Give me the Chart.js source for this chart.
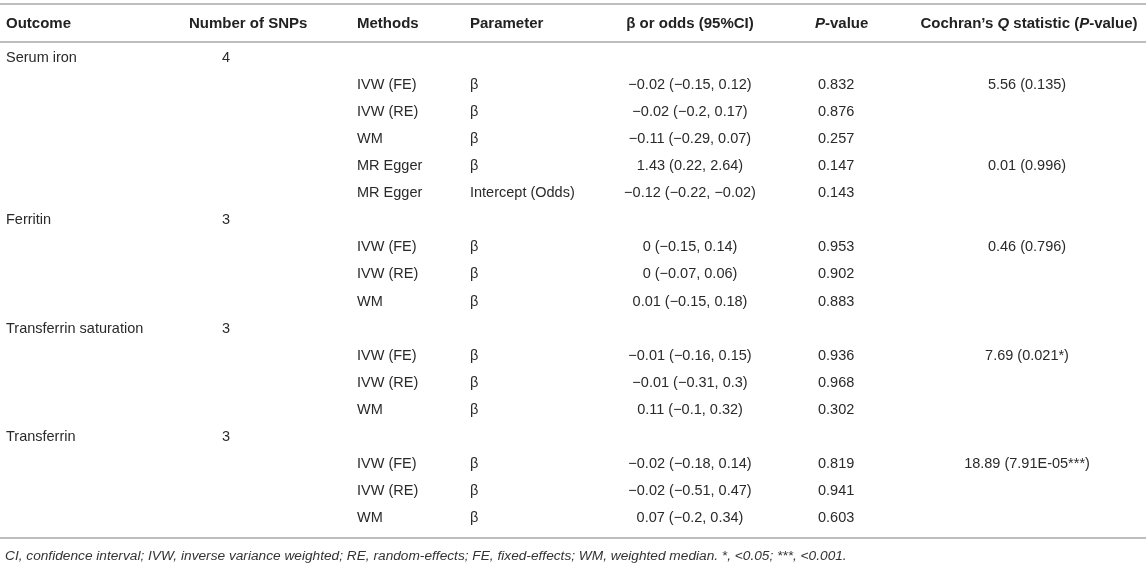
<!DOCTYPE html>
<html>
<head>
<meta charset="utf-8">
<script src="https://cdn.jsdelivr.net/npm/chart.js@4.4.1/dist/chart.umd.min.js"></script>
<style>
  html, body { margin: 0; padding: 0; background: #fff; }
  #wrap { width: 1146px; height: 566px; position: relative; }
</style>
</head>
<body>
<div id="wrap"><canvas id="table"></canvas></div>
<script>
// table data
const outcomes = ["Serum iron", "Ferritin", "Transferrin saturation", "Transferrin"];
const snpCounts = [4, 3, 3, 3];
const methods = [
  ["IVW (FE)", "IVW (RE)", "WM", "MR Egger", "MR Egger"],
  ["IVW (FE)", "IVW (RE)", "WM"],
  ["IVW (FE)", "IVW (RE)", "WM"],
  ["IVW (FE)", "IVW (RE)", "WM"],
];
const parameters = [
  ["β", "β", "β", "β", "Intercept (Odds)"],
  ["β", "β", "β"],
  ["β", "β", "β"],
  ["β", "β", "β"],
];
const estimates = [
  [-0.02, -0.02, -0.11, 1.43, -0.12],
  [0, 0, 0.01],
  [-0.01, -0.01, 0.11],
  [-0.02, -0.02, 0.07],
];
const ciLower = [
  [-0.15, -0.2, -0.29, 0.22, -0.22],
  [-0.15, -0.07, -0.15],
  [-0.16, -0.31, -0.1],
  [-0.18, -0.51, -0.2],
];
const ciUpper = [
  [0.12, 0.17, 0.07, 2.64, -0.02],
  [0.14, 0.06, 0.18],
  [0.15, 0.3, 0.32],
  [0.14, 0.47, 0.34],
];
const pValues = [
  [0.832, 0.876, 0.257, 0.147, 0.143],
  [0.953, 0.902, 0.883],
  [0.936, 0.968, 0.302],
  [0.819, 0.941, 0.603],
];
const cochranQ = [
  [5.56, null, null, 0.01, null],
  [0.46, null, null],
  [7.69, null, null],
  [18.89, null, null],
];
const cochranP = [
  [0.135, null, null, 0.996, null],
  [0.796, null, null],
  [0.021, null, null],
  [7.91e-5, null, null],
];
const footnote = "CI, confidence interval; IVW, inverse variance weighted; RE, random-effects; FE, fixed-effects; WM, weighted median. *, <0.05; ***, <0.001.";

// column layout (style only)
const FONT = '"Liberation Sans", Arial, Helvetica, sans-serif';
const columns = [
  { key: "outcome", x: 6, align: "left", head: [["Outcome"]], headX: 6, headAlign: "left" },
  { key: "snps", x: 226, align: "center", head: [["Number of SNPs"]], headX: 189, headAlign: "left" },
  { key: "method", x: 357, align: "left", head: [["Methods"]], headX: 357, headAlign: "left" },
  { key: "param", x: 470, align: "left", head: [["Parameter"]], headX: 470, headAlign: "left" },
  { key: "est", x: 690, align: "center", head: [["β or odds (95%CI)"]], headX: 690, headAlign: "center" },
  { key: "p", x: 818, align: "left", head: [["P", true], ["-value"]], headX: 815, headAlign: "left" },
  { key: "q", x: 1027, align: "center",
    head: [["Cochran’s "], ["Q", true], [" statistic ("], ["P", true], ["-value)"]], headX: 1029, headAlign: "center" },
];

const fmt = (v) => String(v).replace("-", "−");
const stars = (p) => (p < 0.001 ? "***" : p < 0.05 ? "*" : "");
const fmtP = (p) => {
  if (p < 0.001) {
    const [m, e] = p.toExponential(2).split("e");
    const n = Math.abs(parseInt(e, 10));
    return m + "E" + (e[0] === "-" ? "-" : "+") + String(n).padStart(2, "0");
  }
  return String(p);
};

// build rows
const rowKeys = [];
const cells = {};
columns.forEach((c) => (cells[c.key] = []));
outcomes.forEach((name, g) => {
  const key = "r" + rowKeys.length;
  rowKeys.push(key);
  cells.outcome.push({ x: columns[0].x, y: key, text: name });
  cells.snps.push({ x: columns[1].x, y: key, text: String(snpCounts[g]) });
  methods[g].forEach((m, i) => {
    const k = "r" + rowKeys.length;
    rowKeys.push(k);
    cells.method.push({ x: columns[2].x, y: k, text: m });
    cells.param.push({ x: columns[3].x, y: k, text: parameters[g][i] });
    cells.est.push({
      x: columns[4].x, y: k,
      text: `${fmt(estimates[g][i])} (${fmt(ciLower[g][i])}, ${fmt(ciUpper[g][i])})`,
    });
    cells.p.push({ x: columns[5].x, y: k, text: String(pValues[g][i]) });
    if (cochranQ[g][i] !== null) {
      const p = cochranP[g][i];
      cells.q.push({ x: columns[6].x, y: k, text: `${cochranQ[g][i]} (${fmtP(p)}${stars(p)})` });
    }
  });
});

const drawSegments = (ctx, segs, x, y, align) => {
  const fontFor = (it) => `${it ? "italic " : ""}bold 15px ${FONT}`;
  let total = 0;
  segs.forEach(([t, it]) => { ctx.font = fontFor(it); total += ctx.measureText(t).width; });
  let cx = align === "center" ? x - total / 2 : x;
  ctx.textAlign = "left";
  segs.forEach(([t, it]) => {
    ctx.font = fontFor(it);
    ctx.fillText(t, cx, y);
    cx += ctx.measureText(t).width;
  });
};

const tablePlugin = {
  id: "tableText",
  afterDatasetsDraw(chart) {
    const { ctx, chartArea, scales } = chart;
    ctx.save();
    ctx.textBaseline = "middle";

    // rules
    ctx.strokeStyle = "#a9a9a9";
    ctx.lineWidth = 1.6;
    [4, chartArea.top - 2, chartArea.bottom + 6].forEach((ly) => {
      ctx.beginPath();
      ctx.moveTo(0, ly);
      ctx.lineTo(chart.width, ly);
      ctx.stroke();
    });

    // header
    ctx.fillStyle = "#222";
    const headY = chartArea.top - 20;
    columns.forEach((c) => {
      const hx = scales.x.getPixelForValue(c.headX);
      drawSegments(ctx, c.head, hx, headY, c.headAlign);
    });

    // cells
    ctx.fillStyle = "#2a2a2a";
    ctx.font = `14.5px ${FONT}`;
    chart.data.datasets.forEach((ds, i) => {
      const meta = chart.getDatasetMeta(i);
      ctx.textAlign = ds.align;
      meta.data.forEach((el, j) => {
        ctx.fillText(ds.data[j].text, el.x, el.y);
      });
    });

    // footnote
    ctx.font = `italic 13.7px ${FONT}`;
    ctx.fillStyle = "#333";
    ctx.textAlign = "left";
    ctx.fillText(footnote, 5, chartArea.bottom + 24);
    ctx.restore();
  },
};

new Chart(document.getElementById("table").getContext("2d"), {
  type: "scatter",
  data: {
    datasets: columns.map((c) => ({
      label: c.key,
      data: cells[c.key],
      align: c.align,
      pointRadius: 0,
      pointHoverRadius: 0,
    })),
  },
  options: {
    responsive: true,
    maintainAspectRatio: false,
    animation: false,
    layout: { padding: { top: 44, bottom: 34, left: 0, right: 0 } },
    plugins: {
      legend: { display: false },
      tooltip: { enabled: false },
    },
    scales: {
      x: { type: "linear", min: 0, max: 1146, display: false },
      y: { type: "category", labels: rowKeys, offset: true, display: false },
    },
  },
  plugins: [tablePlugin],
});
</script>
</body>
</html>
